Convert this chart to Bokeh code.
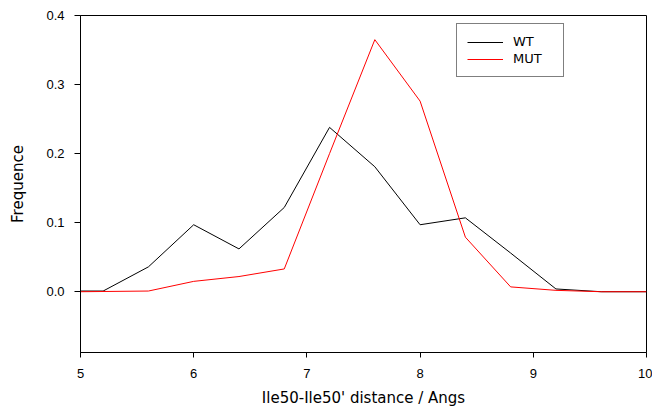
from bokeh.plotting import figure
from bokeh.models import Range1d, FixedTicker, Legend, LegendItem, NumeralTickFormatter
from bokeh.embed import file_html
from bokeh.resources import INLINE

wt_x = [5.0, 5.2, 5.6, 6.0, 6.4, 6.8, 7.2, 7.6, 8.0, 8.4, 8.8, 9.2, 9.6, 10.0]
wt_y = [0.001, 0.001, 0.036, 0.097, 0.062, 0.122, 0.238, 0.181, 0.097, 0.107, 0.056, 0.004, 0.0, 0.0]
mut_x = [5.0, 5.6, 6.0, 6.4, 6.8, 7.2, 7.6, 8.0, 8.4, 8.8, 9.2, 9.6, 10.0]
mut_y = [0.0, 0.001, 0.015, 0.022, 0.033, 0.200, 0.365, 0.276, 0.079, 0.007, 0.002, 0.0, 0.0]
x_ticks = [5, 6, 7, 8, 9, 10]
y_ticks = [0.0, 0.1, 0.2, 0.3, 0.4]
x_title = "Ile50-Ile50' distance / Angs"
y_title = "Frequence"

p = figure(width=652, height=409, output_backend="svg", toolbar_location=None,
           x_range=Range1d(5, 10), y_range=Range1d(-0.088, 0.4),
           min_border_left=80, min_border_right=6, min_border_top=15, min_border_bottom=56)
p.background_fill_color = "white"
p.border_fill_color = "white"
p.outline_line_color = "black"
p.outline_line_width = 1
p.xgrid.grid_line_color = None
p.ygrid.grid_line_color = None

r_wt = p.line(wt_x, wt_y, line_color="black", line_width=1)
r_mut = p.line(mut_x, mut_y, line_color="#ff0000", line_width=1)

for ax in (p.xaxis[0], p.yaxis[0]):
    ax.axis_line_color = "black"
    ax.major_tick_line_color = "black"
    ax.minor_tick_line_color = None
    ax.major_tick_in = 0
    ax.major_label_text_font = "Liberation Sans"
    ax.major_label_text_font_size = "13px"
    ax.major_label_text_color = "black"
    ax.axis_label_text_font = "DejaVu Sans"
    ax.axis_label_text_font_size = "15px"
    ax.axis_label_text_font_style = "normal"
    ax.axis_label_text_color = "black"

p.xaxis[0].ticker = FixedTicker(ticks=x_ticks)
p.xaxis[0].major_tick_out = 5
p.xaxis[0].major_label_standoff = 11
p.xaxis[0].axis_label = x_title
p.xaxis[0].axis_label_standoff = 8

p.yaxis[0].ticker = FixedTicker(ticks=y_ticks)
p.yaxis[0].formatter = NumeralTickFormatter(format="0.0")
p.yaxis[0].major_tick_out = 6
p.yaxis[0].major_label_standoff = 10
p.yaxis[0].axis_label = y_title
p.yaxis[0].axis_label_standoff = 16

legend = Legend(items=[LegendItem(label="WT", renderers=[r_wt]),
                       LegendItem(label="MUT", renderers=[r_mut])],
                location=(376, 275), orientation="vertical")
legend.border_line_color = "black"
legend.border_line_width = 1
legend.background_fill_color = "white"
legend.background_fill_alpha = 1
legend.padding = 10
legend.margin = 0
legend.spacing = 2
legend.glyph_width = 36
legend.glyph_height = 14
legend.label_height = 14
legend.label_width = 40
legend.label_standoff = 10
legend.label_text_font = "DejaVu Sans"
legend.label_text_font_size = "13px"
legend.label_text_color = "black"
p.add_layout(legend, "center")

open("out.html", "w").write(file_html(p, INLINE))
